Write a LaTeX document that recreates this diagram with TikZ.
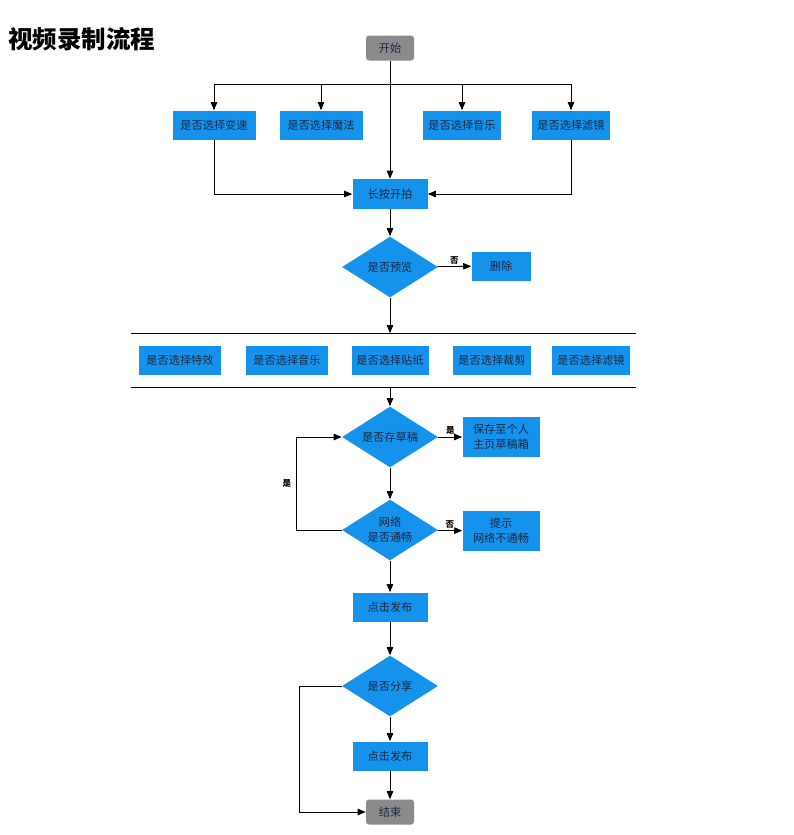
\documentclass[tikz,border=0pt]{standalone}
\usepackage{fontspec}
\newfontfamily\cjk{Noto Sans CJK SC}
\usepackage{tikz}
\usetikzlibrary{arrows,shapes.geometric}
\definecolor{boxblue}{HTML}{1592EC}
\definecolor{boxtext}{HTML}{1A2A44}
\definecolor{endgray}{HTML}{8A8A8A}
\tikzstyle{es} = [-triangle 45]
\tikzstyle{proc} = [fill=boxblue, text=boxtext, inner sep=0pt, minimum height=29pt, font=\cjk\fontsize{11.2}{14}\selectfont, align=center]
\tikzstyle{term} = [proc, fill=endgray, rounded corners=3pt, minimum width=48pt, minimum height=25pt]
\tikzstyle{ask} = [diamond, shape aspect=1.57, fill=boxblue, text=boxtext, inner sep=-4pt, minimum width=96pt, minimum height=61pt, font=\cjk\fontsize{11.2}{15}\selectfont, align=center]
\tikzstyle{tag} = [font=\cjk\bfseries\fontsize{8.5}{9}\selectfont, inner sep=2pt]

\begin{document}
\begin{tikzpicture}[yscale=-1, line width=0.8pt]
			\useasboundingbox (0pt,0pt) rectangle (794pt,835pt);
			\node at (8pt,39pt)[right, inner sep=0pt, font=\cjk\bfseries\fontsize{24.5}{28}\selectfont]{视频录制流程};
			% recording
			\node[term] (start) at (390pt,48pt) {开始};
			\node[proc, minimum width=83pt] (speed) at (214pt,125pt) {是否选择变速};
			\node[proc, minimum width=83pt] (magic) at (321pt,125pt) {是否选择魔法};
			\node[proc, minimum width=78pt] (music) at (462pt,125pt) {是否选择音乐};
			\node[proc, minimum width=78pt] (filter) at (571pt,125pt) {是否选择滤镜};
			\node[proc, minimum width=75pt, minimum height=30pt] (press) at (390pt,194pt) {长按开拍};
			\node[ask] (preview) at (390pt,267pt) {是否预览};
			\node[proc, minimum width=59pt] (delete) at (501pt,266pt) {删除};
			\coordinate (split) at (390pt,84pt);
			\draw (split -| speed) -- (split -| filter);
			\foreach \b in {speed,magic,music,filter}
				\draw[es] (split -| \b) -- (\b);
			\draw[es] (start) -- (press);
			\draw[es] (speed.south) |- (press.west);
			\draw[es] (filter.south) |- (press.east);
			\draw[es] (press) -- (preview);
			\draw[es] (preview) -- node[tag, above]{否} (delete);
			% editing
			\coordinate (barA) at (131pt,333pt);
			\coordinate (barB) at (636pt,333pt);
			\coordinate (barC) at (131pt,387pt);
			\coordinate (barD) at (636pt,387pt);
			\draw (barA) -- (barB);
			\draw (barC) -- (barD);
			\node[proc, minimum width=82pt] (effect) at (180pt,360pt) {是否选择特效};
			\node[proc, minimum width=82pt] (music2) at (287pt,360pt) {是否选择音乐};
			\node[proc, minimum width=77pt] (sticker) at (390pt,360pt) {是否选择贴纸};
			\node[proc, minimum width=78pt] (cut) at (492pt,360pt) {是否选择裁剪};
			\node[proc, minimum width=78pt] (filter2) at (591pt,360pt) {是否选择滤镜};
			\draw[es] (preview) -- (preview |- barA);
			% publishing
			\node[ask] (draft) at (390pt,437pt) {是否存草稿};
			\node[proc, minimum width=77pt, minimum height=40pt, font=\cjk\fontsize{11.2}{15}\selectfont] (save) at (501pt,437pt) {保存至个人\\主页草稿箱};
			\node[ask] (net) at (390pt,530pt) {网络\\是否通畅};
			\node[proc, minimum width=77pt, minimum height=40pt, font=\cjk\fontsize{11.2}{15}\selectfont] (hint) at (501pt,531pt) {提示\\网络不通畅};
			\node[proc, minimum width=75pt] (post) at (390pt,607pt) {点击发布};
			\node[ask] (share) at (390pt,686pt) {是否分享};
			\node[proc, minimum width=75pt] (post2) at (390pt,756pt) {点击发布};
			\node[term] (end) at (390pt,812pt) {结束};
			\draw[es] (draft |- barC) -- (draft);
			\draw[es] (draft) -- node[tag, above]{是} (save);
			\draw[es] (draft) -- (net);
			\draw[es] (net) -- node[tag, above]{否} (hint);
			\draw[es] (net.west) -- ++(-45pt,0pt) |- node[tag, pos=0.25, left=3pt]{是} (draft.west);
			\draw[es] (net) -- (post);
			\draw[es] (post) -- (share);
			\draw[es] (share) -- (post2);
			\draw[es] (post2) -- (end);
			\draw[es] (share.west) -- ++(-42pt,0pt) |- (end.west);
		\end{tikzpicture}
\end{document}
